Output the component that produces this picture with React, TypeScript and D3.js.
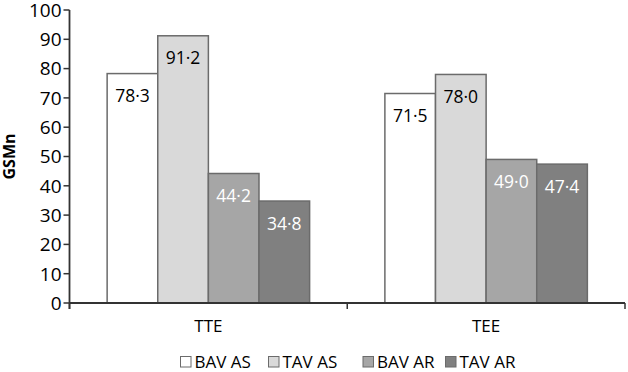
import React from 'react';
import * as d3 from 'd3';

const categories = ['TTE', 'TEE'];
const seriesNames = ['BAV AS', 'TAV AS', 'BAV AR', 'TAV AR'];
const values = [
  [78.3, 91.2, 44.2, 34.8],
  [71.5, 78.0, 49.0, 47.4],
];
const yTicks = [0, 10, 20, 30, 40, 50, 60, 70, 80, 90, 100];
const fills = ['#ffffff', '#d9d9d9', '#a6a6a6', '#808080'];
const labelColors = ['#000000', '#000000', '#ffffff', '#ffffff'];

const W = 628;
const H = 372;
const margin = { top: 10, right: 3, bottom: 69, left: 69.5 };
const font = "'Open Sans', sans-serif";

const App = () => {
  const x0 = d3
    .scaleBand<string>()
    .domain(categories)
    .range([margin.left, W - margin.right])
    .paddingInner(0)
    .paddingOuter(0);

  // Excel-style gap width of ~150% split on both sides of each group
  const groupPad = x0.bandwidth() * 0.1355;
  const x1 = d3
    .scaleBand<string>()
    .domain(seriesNames)
    .range([groupPad, x0.bandwidth() - groupPad]);

  const y = d3
    .scaleLinear()
    .domain([0, 100])
    .range([H - margin.bottom, margin.top]);

  const fmt = (v: number) => v.toFixed(1).replace('.', '\u00b7');

  const legendX = [180, 268, 362.5, 445];

  return (
    <svg
      width={W}
      height={H}
      style={{ position: 'absolute', left: 0, top: 0, background: '#fff' }}
      fontFamily={font}
    >
      {/* bars */}
      {categories.map((c, ci) => (
        <g key={c} transform={`translate(${x0(c)},0)`}>
          {seriesNames.map((s, si) => {
            const v = values[ci][si];
            const bx = x1(s)!;
            const bw = x1.bandwidth();
            return (
              <g key={s}>
                <rect
                  x={bx}
                  y={y(v)}
                  width={bw}
                  height={y(0) - y(v)}
                  fill={fills[si]}
                  stroke="#6b6b6b"
                  strokeWidth={1.5}
                />
                <text
                  x={bx + bw / 2}
                  y={y(v) + 28.5}
                  textAnchor="middle"
                  fontSize={17.5}
                  fill={labelColors[si]}
                >
                  {fmt(v)}
                </text>
              </g>
            );
          })}
        </g>
      ))}

      {/* y axis */}
      <line x1={margin.left} x2={margin.left} y1={y(100)} y2={y(0) + 6} stroke="#333" strokeWidth={1.8} />
      {yTicks.map((t) => (
        <g key={t}>
          <line x1={margin.left - 6} x2={margin.left} y1={y(t)} y2={y(t)} stroke="#333" strokeWidth={1.5} />
          <text x={margin.left - 8} y={y(t)} dy="0.36em" textAnchor="end" fontSize={19} fill="#000">
            {t}
          </text>
        </g>
      ))}

      {/* x axis */}
      <line x1={margin.left} x2={W - margin.right} y1={y(0)} y2={y(0)} stroke="#333" strokeWidth={1.8} />
      {[...categories.map((c) => x0(c)!), W - margin.right].map((tx, i) => (
        <line key={i} x1={tx} x2={tx} y1={y(0)} y2={y(0) + 6} stroke="#333" strokeWidth={1.5} />
      ))}
      {categories.map((c) => (
        <text key={c} x={x0(c)! + x0.bandwidth() / 2} y={332} textAnchor="middle" fontSize={17} fill="#000">
          {c}
        </text>
      ))}

      {/* y label */}
      <text
        transform={`translate(15,${(y(0) + y(100)) / 2}) rotate(-90)`}
        textAnchor="middle"
        fontSize={16}
        fontWeight="bold"
        fill="#000"
      >
        GSMn
      </text>

      {/* legend */}
      {seriesNames.map((s, i) => (
        <g key={s} transform={`translate(${legendX[i]},356)`}>
          <rect x={0.5} y={0.5} width={10.5} height={10.5} fill={fills[i]} stroke="#6b6b6b" strokeWidth={1} />
          <text x={14.5} y={11.5} fontSize={17} fill="#000">
            {s}
          </text>
        </g>
      ))}
    </svg>
  );
};

export default App;
